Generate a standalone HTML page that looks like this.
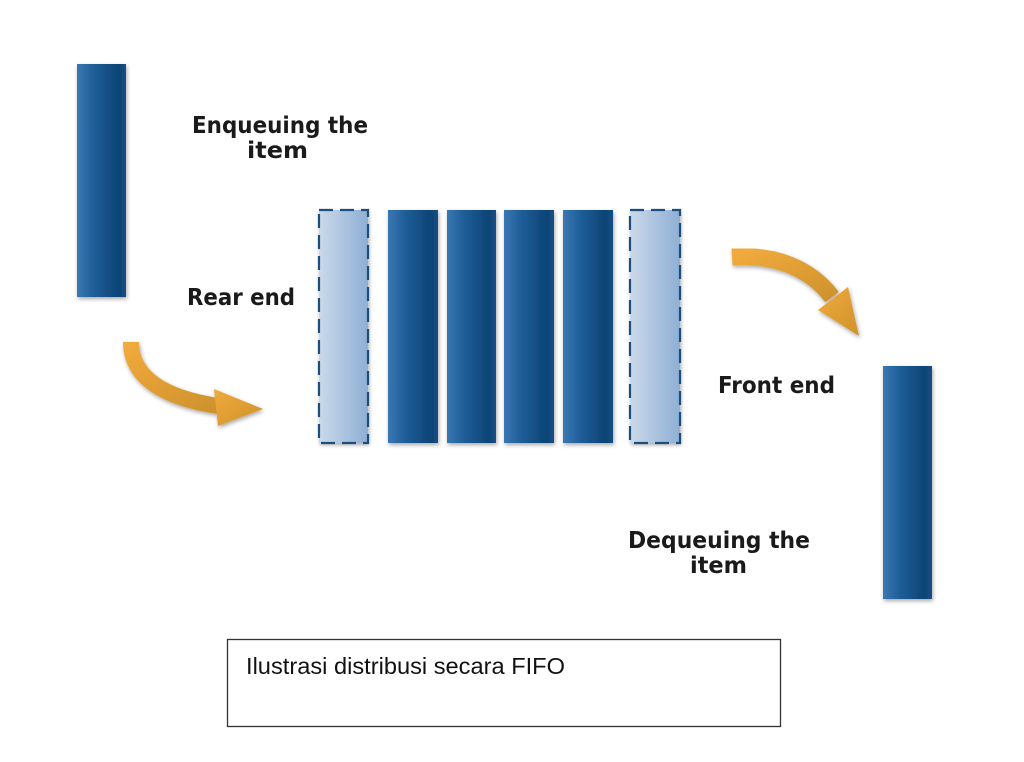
<!DOCTYPE html>
<html>
<head>
<meta charset="utf-8">
<style>
  html,body{margin:0;padding:0;background:#fff;}
  svg{display:block;}
</style>
</head>
<body>
<svg width="1024" height="762" viewBox="0 0 1024 762" xmlns="http://www.w3.org/2000/svg">
  <defs>
    <linearGradient id="bar" x1="0" y1="0" x2="1" y2="0">
      <stop offset="0" stop-color="#3a78b3"/>
      <stop offset="0.35" stop-color="#1f5d98"/>
      <stop offset="0.85" stop-color="#0c4475"/>
      <stop offset="1" stop-color="#184f84"/>
    </linearGradient>
    <linearGradient id="ghost" x1="0" y1="0" x2="1" y2="0">
      <stop offset="0" stop-color="#cbd9ea"/>
      <stop offset="1" stop-color="#8eafd5"/>
    </linearGradient>
    <linearGradient id="arr" x1="0" y1="0" x2="1" y2="1">
      <stop offset="0" stop-color="#f0aa3c"/>
      <stop offset="1" stop-color="#cf922c"/>
    </linearGradient>
    <filter id="sh" x="-20%" y="-10%" width="140%" height="130%">
      <feGaussianBlur in="SourceAlpha" stdDeviation="2"/>
      <feOffset dx="1" dy="2" result="b"/>
      <feComponentTransfer><feFuncA type="linear" slope="0.35"/></feComponentTransfer>
      <feMerge><feMergeNode/><feMergeNode in="SourceGraphic"/></feMerge>
    </filter>
  </defs>

  <!-- Left enqueue bar -->
  <rect x="77" y="64" width="49" height="233" fill="url(#bar)" filter="url(#sh)"/>
  <!-- Right dequeue bar -->
  <rect x="883" y="366" width="49" height="233" fill="url(#bar)" filter="url(#sh)"/>

  <!-- Queue bars -->
  <rect x="319" y="210" width="49" height="233" fill="url(#ghost)" filter="url(#sh)"/>
  <rect x="319" y="210" width="49" height="233" fill="none" stroke="#1d4f7c" stroke-width="2.2" stroke-dasharray="14 7"/>
  <rect x="388" y="210" width="50" height="233" fill="url(#bar)" filter="url(#sh)"/>
  <rect x="447" y="210" width="49" height="233" fill="url(#bar)" filter="url(#sh)"/>
  <rect x="504" y="210" width="50" height="233" fill="url(#bar)" filter="url(#sh)"/>
  <rect x="563" y="210" width="50" height="233" fill="url(#bar)" filter="url(#sh)"/>
  <rect x="630" y="210" width="50" height="233" fill="url(#ghost)" filter="url(#sh)"/>
  <rect x="630" y="210" width="50" height="233" fill="none" stroke="#1d4f7c" stroke-width="2.2" stroke-dasharray="14 7"/>

  <!-- Left arrow -->
  <g filter="url(#sh)">
    <path d="M131,342 C131,378 165,398 218,406" fill="none" stroke="url(#arr)" stroke-width="16"/>
    <polygon points="214,389 263,409 218,426" fill="url(#arr)"/>
  </g>
  <!-- Right arrow -->
  <g filter="url(#sh)">
    <path d="M732,257 C775,254 810,268 832,297" fill="none" stroke="url(#arr)" stroke-width="17"/>
    <polygon points="848,287 859,336 818,310" fill="url(#arr)"/>
  </g>

  <!-- Labels -->
  <g font-family="'DejaVu Sans', 'Liberation Sans', sans-serif" font-weight="bold" font-size="23" fill="#1a1a1a">
    <text x="192" y="133" textLength="176" lengthAdjust="spacingAndGlyphs">Enqueuing the</text>
    <text x="247" y="158" textLength="61" lengthAdjust="spacingAndGlyphs">item</text>
    <text x="187" y="305" textLength="108" lengthAdjust="spacingAndGlyphs">Rear end</text>
    <text x="718" y="393" textLength="117" lengthAdjust="spacingAndGlyphs">Front end</text>
    <text x="628" y="548" textLength="182" lengthAdjust="spacingAndGlyphs">Dequeuing the</text>
    <text x="690" y="573" textLength="57" lengthAdjust="spacingAndGlyphs">item</text>
  </g>

  <!-- Caption box -->
  <rect x="227.5" y="639.5" width="553" height="87" fill="#fff" stroke="#333" stroke-width="1.3"/>
  <text x="246" y="674" font-family="'Liberation Sans', sans-serif" font-size="23" fill="#111" textLength="319" lengthAdjust="spacingAndGlyphs">Ilustrasi distribusi secara FIFO</text>
</svg>
</body>
</html>
